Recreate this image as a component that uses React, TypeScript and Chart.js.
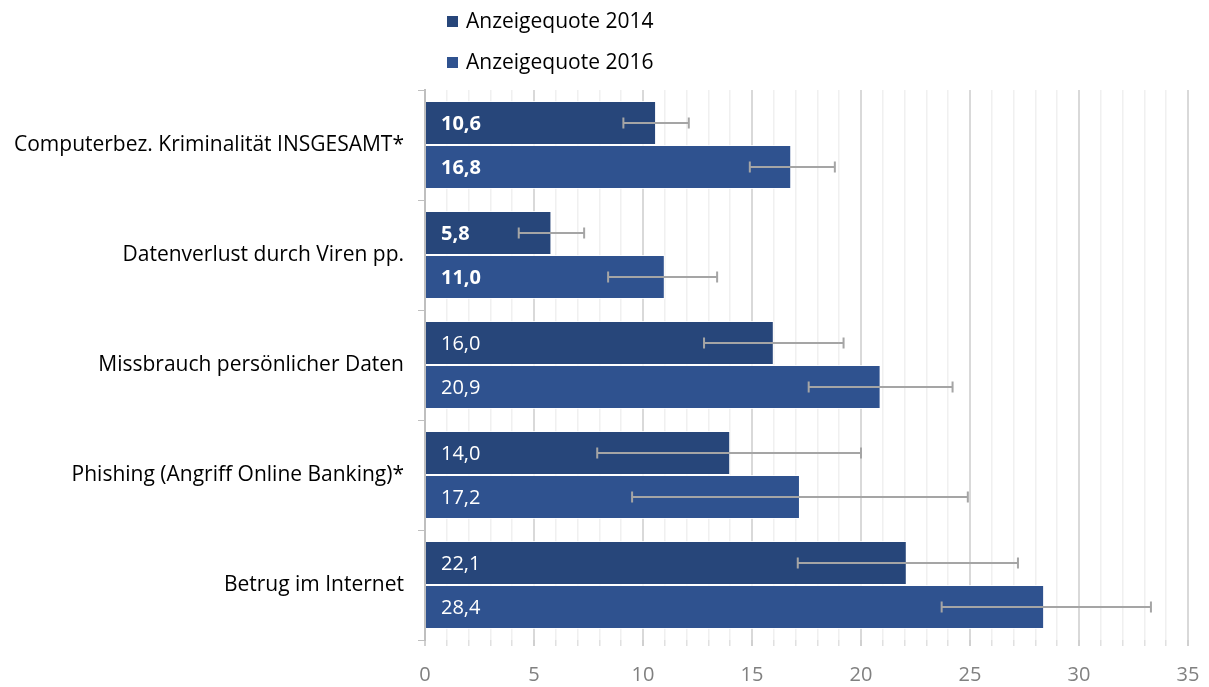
import React, { useEffect, useRef } from "react";
import { Chart, registerables } from "chart.js";

Chart.register(...registerables);

const categories = [
  "Computerbez. Kriminalität INSGESAMT*",
  "Datenverlust durch Viren pp.",
  "Missbrauch persönlicher Daten",
  "Phishing (Angriff Online Banking)*",
  "Betrug im Internet",
];
const seriesNames = ["Anzeigequote 2014", "Anzeigequote 2016"];
const quote2014 = [10.6, 5.8, 16.0, 14.0, 22.1];
const quote2016 = [16.8, 11.0, 20.9, 17.2, 28.4];
const errLow2014 = [9.1, 4.3, 12.8, 7.9, 17.1];
const errHigh2014 = [12.1, 7.3, 19.2, 20.0, 27.2];
const errLow2016 = [14.9, 8.4, 17.6, 9.5, 23.7];
const errHigh2016 = [18.8, 13.4, 24.2, 24.9, 33.3];
const boldLabel = [true, true, false, false, false];
const xTickLabels = ["0", "5", "10", "15", "20", "25", "30", "35"];

const colors = ["#27467a", "#2f528f"];
const FONT = "'Open Sans', sans-serif";

const fmt = (v: number) => v.toFixed(1).replace(".", ",");

const extrasPlugin = {
  id: "extras",
  afterDatasetsDraw(chart: any) {
    const ctx = chart.ctx;
    const x = chart.scales.x;
    const lows = [errLow2014, errLow2016];
    const highs = [errHigh2014, errHigh2016];
    chart.data.datasets.forEach((ds: any, di: number) => {
      const meta = chart.getDatasetMeta(di);
      meta.data.forEach((el: any, i: number) => {
        const x1 = x.getPixelForValue(lows[di][i]);
        const x2 = x.getPixelForValue(highs[di][i]);
        const y = el.y;
        ctx.save();
        ctx.strokeStyle = "#a5a5a5";
        ctx.lineWidth = 2;
        ctx.beginPath();
        ctx.moveTo(x1, y);
        ctx.lineTo(x2, y);
        ctx.moveTo(x1, y - 5.5);
        ctx.lineTo(x1, y + 5.5);
        ctx.moveTo(x2, y - 5.5);
        ctx.lineTo(x2, y + 5.5);
        ctx.stroke();
        ctx.fillStyle = "#ffffff";
        ctx.font = `${boldLabel[i] ? "bold " : ""}20px ${FONT}`;
        ctx.textAlign = "left";
        ctx.textBaseline = "middle";
        ctx.fillText(fmt(ds.data[i]), chart.chartArea.left + 16, y + 1);
        ctx.restore();
      });
    });
  },
  afterDraw(chart: any) {
    const ctx = chart.ctx;
    ctx.save();
    chart.data.datasets.forEach((ds: any, di: number) => {
      const cy = 21 + di * 41;
      ctx.fillStyle = colors[di];
      ctx.fillRect(447, cy - 5, 11, 11);
      ctx.fillStyle = "#000000";
      ctx.font = `21px ${FONT}`;
      ctx.textAlign = "left";
      ctx.textBaseline = "middle";
      ctx.fillText(ds.label, 466, cy + 1);
    });
    ctx.restore();
  },
};

export default function App() {
  const ref = useRef<HTMLCanvasElement>(null);
  useEffect(() => {
    if (!ref.current) return;
    const chart = new Chart(ref.current, {
      type: "bar",
      data: {
        labels: categories,
        datasets: [
          {
            label: seriesNames[0],
            data: quote2014,
            backgroundColor: colors[0],
            borderColor: "rgba(255,255,255,0.8)",
            borderWidth: 1,
            categoryPercentage: 0.8,
            barPercentage: 1.0,
          },
          {
            label: seriesNames[1],
            data: quote2016,
            backgroundColor: colors[1],
            borderColor: "rgba(255,255,255,0.8)",
            borderWidth: 1,
            categoryPercentage: 0.8,
            barPercentage: 1.0,
          },
        ],
      },
      options: {
        indexAxis: "y",
        animation: false,
        responsive: true,
        maintainAspectRatio: false,
        layout: { padding: { top: 90, right: 21, left: 8, bottom: 0 } },
        plugins: {
          legend: { display: false },
          tooltip: { enabled: false },
        },
        scales: {
          x: {
            min: 0,
            max: 35,
            afterFit: (scale: any) => {
              scale.height = 47;
              scale.paddingRight = 0;
              scale.paddingLeft = 0;
            },
            ticks: {
              stepSize: 1,
              autoSkip: false,
              maxRotation: 0,
              color: "#808080",
              font: { family: FONT, size: 20 },
              padding: 17,
              callback: (v: any) =>
                Number(v) % 5 === 0 ? xTickLabels[Number(v) / 5] : "",
            },
            grid: {
              color: (c: any) =>
                c.tick && c.tick.value % 5 === 0 ? "#d9d9d9" : "#f0f0f0",
              lineWidth: (c: any) =>
                c.tick && c.tick.value % 5 === 0 ? 2 : 1.5,
              tickLength: 6,
              tickColor: (c: any) =>
                c.tick && c.tick.value % 5 === 0 ? "#d0d0d0" : "#e0e0e0",
            },
            border: { display: false },
          },
          y: {
            afterFit: (scale: any) => {
              scale.width = 417;
            },
            ticks: {
              color: "#000000",
              font: { family: FONT, size: 21 },
              padding: 14,
            },
            grid: {
              offset: true,
              drawOnChartArea: false,
              tickLength: 7,
              color: "#bfbfbf",
            },
            border: { display: true, color: "#bfbfbf", width: 2 },
          },
        },
      },
      plugins: [extrasPlugin],
    });
    return () => chart.destroy();
  }, []);
  return (
    <div style={{ position: "fixed", left: 0, top: 0, width: 1209, height: 687, background: "#fff" }}>
      <canvas ref={ref} />
    </div>
  );
}
